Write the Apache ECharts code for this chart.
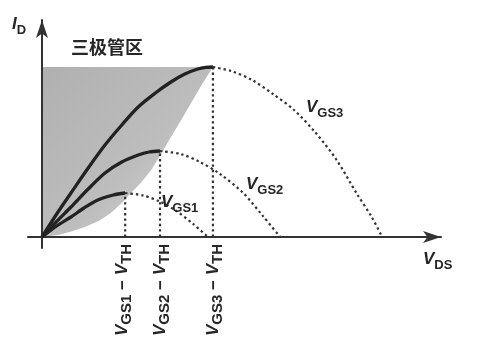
<!DOCTYPE html>
<html>
<head>
<meta charset="utf-8">
<script src="https://cdn.jsdelivr.net/npm/echarts@6/dist/echarts.min.js"></script>
<style>
html,body{margin:0;padding:0;background:#fff;}
#c{width:494px;height:351px;}
</style>
</head>
<body>
<div id="c"></div>
<script>
// ---- data (x: V_DS, y: I_D, arbitrary units) ----
const vgs1Solid = [[0,0],[0.35,0.55],[0.69,1.0],[1.0,1.45],[1.33,1.85],[1.7,2.1],[1.98,2.2]];
const vgs1Dash  = [[1.98,2.2],[2.4,2.08],[2.8,1.78],[3.2,1.3],[3.6,0.65],[3.95,0]];
const vgs2Solid = [[0,0],[0.35,0.78],[0.69,1.5],[1.1,2.4],[1.5,3.2],[1.9,3.75],[2.29,4.1],[2.55,4.25],[2.81,4.3]];
const vgs2Dash  = [[2.81,4.3],[3.3,4.15],[3.76,3.75],[4.24,3.15],[4.79,2.2],[5.26,1.05],[5.67,0]];
const vgs3Solid = [[0,0],[0.35,1.15],[0.69,2.2],[1.1,3.45],[1.5,4.6],[1.9,5.6],[2.29,6.5],[2.7,7.2],[3.07,7.75],[3.4,8.15],[3.71,8.4],[3.9,8.48],[4.07,8.5]];
const vgs3Dash  = [[4.07,8.5],[4.5,8.3],[5.0,7.85],[5.5,7.15],[6.0,6.35],[6.5,5.25],[7.0,3.9],[7.5,2.15],[7.85,1.0],[8.1,0]];
const overdrive = [1.98, 2.81, 4.07];      // V_GSi - V_TH
const peakCurrent = [2.2, 4.3, 8.5];
const triodeRegion = [[0,0],[0,8.5],[4.07,8.5],[3.8,7.6],[3.55,6.7],[3.3,5.8],[3.07,5.0],[2.85,4.2],[2.6,3.35],[2.35,2.7],[2.12,2.2],[1.9,1.7],[1.64,1.2],[1.35,0.8],[1.02,0.5],[0.7,0.27],[0.38,0.1]];
const curveNames = ['GS1','GS2','GS3'];
const tickLabels = ['GS1','GS2','GS3'];

const FONT = 'Liberation Sans, Arial, sans-serif';
const ink = '#262626';

const chart = echarts.init(document.getElementById('c'));

const solidStyle = {color: '#222', width: 3.3};
const dotStyle = {color: '#333', width: 2.2, type: [2.4, 3]};

function lineSeries(data, style, z) {
  return {type: 'line', data: data, smooth: 0.3, symbol: 'none', lineStyle: style, z: z, silent: true};
}

const series = [
  {
    type: 'custom', z: 1, silent: true,
    data: [[0, 0]],
    renderItem: function (params, api) {
      const pts = triodeRegion.map(p => api.coord(p));
      return {
        type: 'polygon',
        shape: {points: pts},
        style: {
          fill: new echarts.graphic.LinearGradient(0, 0, 1, 1, [
            {offset: 0, color: '#b0b0b0'},
            {offset: 0.55, color: '#bdbdbd'},
            {offset: 1, color: '#d4d4d4'}
          ])
        }
      };
    }
  },
  lineSeries(vgs1Solid, solidStyle, 5),
  lineSeries(vgs2Solid, solidStyle, 5),
  lineSeries(vgs3Solid, solidStyle, 5),
  lineSeries(vgs1Dash, dotStyle, 4),
  lineSeries(vgs2Dash, dotStyle, 4),
  lineSeries(vgs3Dash, dotStyle, 4)
];
overdrive.forEach(function (v, i) {
  series.push({type: 'line', data: [[v, 0], [v, peakCurrent[i]]], symbol: 'none', lineStyle: dotStyle, z: 4, silent: true});
});

const rich = {
  v: {fontFamily: FONT, fontSize: 17, fontStyle: 'italic', fontWeight: 'bold', fill: ink, verticalAlign: 'bottom', padding: [0, 0, 4, 0]},
  s: {fontFamily: FONT, fontSize: 13, fontWeight: 'bold', fill: ink, verticalAlign: 'bottom'},
  s2: {fontFamily: FONT, fontSize: 15, fontWeight: 'bold', fill: ink, verticalAlign: 'bottom'},
  m: {fontFamily: FONT, fontSize: 17, fontWeight: 'bold', fill: ink, verticalAlign: 'bottom', padding: [0, 0, 3, 0]}
};

function label(x, y, main, sub) {
  return {
    type: 'text', x: x, y: y, z: 10,
    style: {text: '{v|' + main + '}{s|' + sub + '}', rich: rich, align: 'left', verticalAlign: 'top'}
  };
}

const graphics = [
  label(12, 16, 'I', 'D'),
  label(161, 194, 'V', curveNames[0]),
  label(246, 176, 'V', curveNames[1]),
  label(306, 99, 'V', curveNames[2]),
  label(423, 251, 'V', 'DS'),
  {type: 'text', x: 71, y: 38, z: 10, style: {text: '三极管区', fontFamily: 'Noto Sans CJK SC', fontSize: 18, fontWeight: 'bold', fill: ink, align: 'left', verticalAlign: 'top'}}
];
const rotX = [124, 162, 215];
tickLabels.forEach(function (t, i) {
  graphics.push({
    type: 'text', x: rotX[i], y: 336, rotation: Math.PI / 2, z: 10,
    style: {text: '{v|V}{s2|' + t + '}{m| − }{v|V}{s2|TH}', rich: rich, align: 'left', verticalAlign: 'middle'}
  });
});

chart.setOption({
  animation: false,
  backgroundColor: '#fff',
  grid: {left: 28, top: 20, width: 413, height: 228, containLabel: false},
  xAxis: {
    type: 'value', min: -0.333, max: 9.5, z: 3,
    axisLine: {onZero: true, symbol: ['none', 'arrow'], symbolSize: [9, 18], lineStyle: {color: '#333', width: 2}},
    axisTick: {show: false}, axisLabel: {show: false}, splitLine: {show: false}
  },
  yAxis: {
    type: 'value', min: -0.55, max: 10.85, z: 3,
    axisLine: {onZero: true, symbol: ['none', 'arrow'], symbolSize: [9, 18], lineStyle: {color: '#333', width: 2}},
    axisTick: {show: false}, axisLabel: {show: false}, splitLine: {show: false}
  },
  series: series,
  graphic: graphics
});
</script>
</body>
</html>
